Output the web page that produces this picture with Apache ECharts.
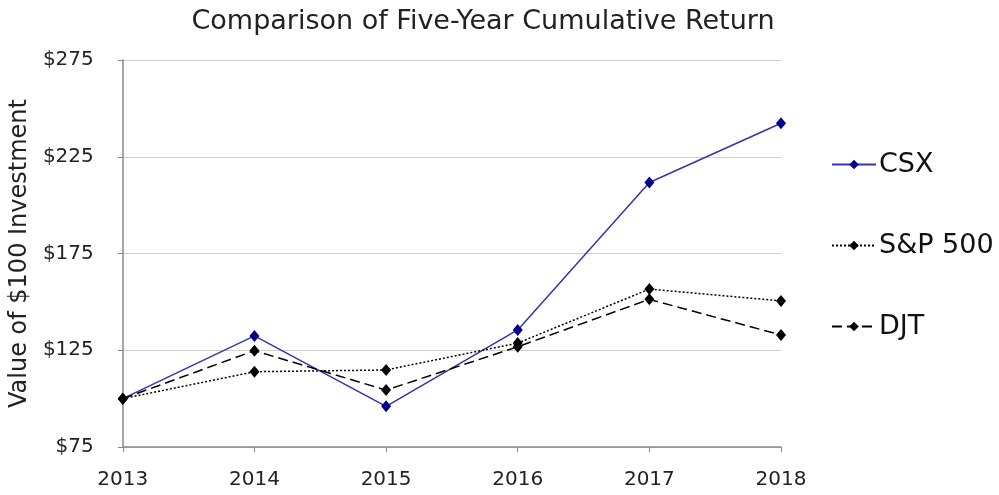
<!DOCTYPE html>
<html>
<head>
<meta charset="utf-8">
<script src="https://cdn.jsdelivr.net/npm/echarts@6/dist/echarts.min.js"></script>
<style>html,body{margin:0;padding:0;background:#fff;}#c{width:999px;height:495px;}</style>
</head>
<body>
<div id="c"></div>
<script>
var years = ['2013', '2014', '2015', '2016', '2017', '2018'];
var csx = [100, 132.4, 96.0, 135.5, 211.7, 242.3];
var sp500 = [100, 113.9, 114.8, 128.7, 156.6, 150.5];
var djt = [100, 124.8, 104.4, 126.8, 151.3, 132.9];
var yTicks = [75, 125, 175, 225, 275];

var font = 'DejaVu Sans';
var chart = echarts.init(document.getElementById('c'));
chart.setOption({
  backgroundColor: '#fff',
  animation: false,
  title: {
    text: 'Comparison of Five-Year Cumulative Return',
    left: 478, top: 3, textAlign: 'center',
    textStyle: {fontFamily: font, fontSize: 27, fontWeight: 'normal', color: '#222'}
  },
  legend: {
    orient: 'vertical', left: 826, top: 146,
    itemWidth: 44, itemHeight: 12, itemGap: 54,
    textStyle: {fontFamily: font, fontSize: 27, color: '#111', padding: [0,0,0,-2]},
    data: ['CSX', 'S&P 500', 'DJT']
  },
  grid: {left: 122, right: 218, top: 60, bottom: 48},
  xAxis: {
    type: 'category', data: years, boundaryGap: false,
    axisLine: {lineStyle: {color: '#888', width: 1.5}},
    axisTick: {show: true, length: 5, lineStyle: {color: '#888'}},
    axisLabel: {fontFamily: font, fontSize: 20, color: '#222', margin: 23}
  },
  yAxis: {
    type: 'value', min: 75, max: 275, interval: 50,
    name: 'Value of $100 Investment', nameLocation: 'middle', nameGap: 85,
    nameTextStyle: {fontFamily: font, fontSize: 24, color: '#222'},
    axisLine: {show: true, lineStyle: {color: '#888', width: 1.5}},
    axisTick: {show: true, length: 5, lineStyle: {color: '#888'}},
    splitLine: {lineStyle: {color: '#d0d0d0', width: 1}},
    axisLabel: {fontFamily: font, fontSize: 20, color: '#222', margin: 29,
      formatter: function (v) { return yTicks.indexOf(v) >= 0 ? '$' + v : ''; }}
  },
  series: [
    {name: 'CSX', type: 'line', data: csx, symbol: 'diamond', symbolSize: [10, 12],
      lineStyle: {color: '#3535ad', width: 1.5}, itemStyle: {color: '#00008b'}},
    {name: 'S&P 500', type: 'line', data: sp500, symbol: 'diamond', symbolSize: [10, 12],
      lineStyle: {color: '#000', width: 1.5, type: [2, 2]}, itemStyle: {color: '#000'}},
    {name: 'DJT', type: 'line', data: djt, symbol: 'diamond', symbolSize: [10, 12],
      lineStyle: {color: '#000', width: 1.5, type: [10, 5]}, itemStyle: {color: '#000'}}
  ]
});
</script>
</body>
</html>
